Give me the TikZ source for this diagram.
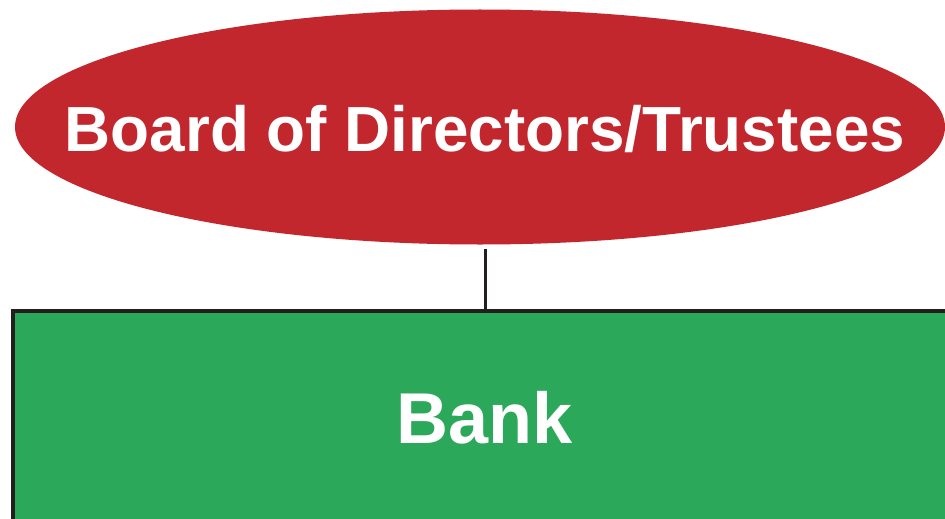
\documentclass[tikz,border=0pt]{standalone}
\usepackage{fontspec}
\setmainfont{Liberation Sans}
\usetikzlibrary{shapes.geometric, positioning}
\definecolor{BoardRed}{HTML}{C1272D}
\definecolor{BankGreen}{HTML}{2CA85A}
\definecolor{LineBlack}{HTML}{231F20}

\begin{document}
\begin{tikzpicture}[x=1pt, y=-1pt,
    boardshape/.style={ellipse, fill=BoardRed, inner sep=0pt,
                       minimum width=930pt, minimum height=235pt},
    boardtext/.style={text=white, font=\fontsize{63.8}{70}\selectfont\bfseries,
                      inner sep=0pt, text height=46pt, text depth=0pt},
    bankbox/.style={rectangle, draw=LineBlack, line width=4pt, fill=BankGreen,
                    text=white, font=\fontsize{72}{78}\selectfont\bfseries,
                    minimum width=944pt, minimum height=214pt, inner sep=0pt,
                    text height=51pt, text depth=0pt},
    link/.style={draw=LineBlack, line width=3pt}]
    \useasboundingbox (0,0) rectangle (945,519);
    % Board
    \node[boardshape] (board) at (480,127) {};
    \node[boardtext] (boardlabel) at (485,128) {Board of Directors/Trustees};
    % Bank
    \node[bankbox] (bank) at (485,418) {Bank};
    % Connector
    \coordinate (drop) at (board.south -| bank.north);
    \draw[link] (drop) ++(0,4) -- (bank.north);
\end{tikzpicture}
\end{document}
